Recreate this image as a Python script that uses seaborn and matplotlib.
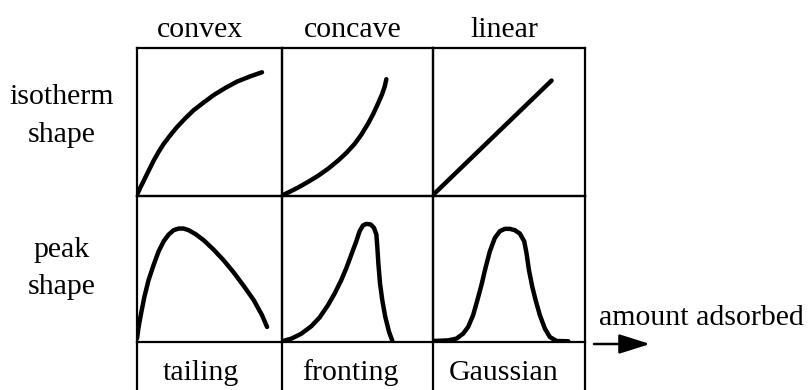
import matplotlib
matplotlib.use("Agg")
import matplotlib.pyplot as plt
from matplotlib.lines import Line2D
from matplotlib.patches import FancyArrowPatch
import seaborn as sns

# ---------------- data (cell-normalised coordinates) ----
column_labels = ["convex", "concave", "linear"]
bottom_labels = ["tailing", "fronting", "Gaussian"]
row_labels = [["isotherm", "shape"], ["peak", "shape"]]
axis_label = "amount adsorbed"

convex_x = [0.0, 0.023, 0.046, 0.080, 0.115, 0.149, 0.184, 0.230, 0.276, 0.333,
            0.391, 0.460, 0.529, 0.609, 0.690, 0.777, 0.862]
convex_y = [0.007, 0.057, 0.102, 0.170, 0.239, 0.298, 0.352, 0.411, 0.466, 0.525,
            0.580, 0.632, 0.682, 0.730, 0.773, 0.807, 0.836]

concave_x = [0.007, 0.062, 0.106, 0.172, 0.238, 0.305, 0.371, 0.426, 0.481, 0.525,
             0.570, 0.603, 0.636, 0.662, 0.680, 0.691]
concave_y = [0.007, 0.034, 0.057, 0.095, 0.136, 0.184, 0.239, 0.291, 0.352, 0.414,
             0.489, 0.552, 0.625, 0.686, 0.739, 0.789]

linear_x = [0.0, 0.78]
linear_y = [0.007, 0.78]

tailing_x = [0.0, 0.011, 0.028, 0.051, 0.080, 0.115, 0.149, 0.184, 0.218, 0.253, 0.287,
             0.322, 0.356, 0.402, 0.460, 0.529, 0.598, 0.667, 0.736, 0.805, 0.862, 0.897]
tailing_y = [0.023, 0.103, 0.195, 0.310, 0.425, 0.529, 0.621, 0.690, 0.736, 0.766, 0.777,
             0.777, 0.766, 0.740, 0.697, 0.632, 0.559, 0.476, 0.384, 0.287, 0.184, 0.103]

fronting_x = [0.007, 0.062, 0.128, 0.194, 0.249, 0.305, 0.349, 0.393, 0.426, 0.459, 0.492,
              0.514, 0.536, 0.558, 0.587, 0.609, 0.625, 0.631, 0.638, 0.649, 0.664, 0.684,
              0.709, 0.731]
fronting_y = [0.007, 0.023, 0.057, 0.108, 0.168, 0.253, 0.333, 0.425, 0.506, 0.598, 0.690,
              0.759, 0.798, 0.809, 0.805, 0.782, 0.736, 0.655, 0.540, 0.402, 0.287, 0.172,
              0.069, 0.007]

gauss_x = [0.0, 0.099, 0.154, 0.198, 0.231, 0.264, 0.292, 0.319, 0.345, 0.374, 0.407,
           0.440, 0.473, 0.505, 0.538, 0.571, 0.600, 0.615, 0.631, 0.653, 0.675, 0.703,
           0.736, 0.769, 0.813, 0.890]
gauss_y = [0.007, 0.011, 0.023, 0.057, 0.103, 0.184, 0.287, 0.391, 0.506, 0.621, 0.713,
           0.759, 0.775, 0.775, 0.766, 0.743, 0.690, 0.609, 0.494, 0.379, 0.287, 0.184,
           0.092, 0.034, 0.007, 0.005]

curves = [
    [(convex_x, convex_y), (concave_x, concave_y), (linear_x, linear_y)],
    [(tailing_x, tailing_y), (fronting_x, fronting_y), (gauss_x, gauss_y)],
]

# ---------------- layout ----------------
W, H = 811, 390
col_edges = [137, 282, 433, 585]
row_edges = [48, 196, 342]

sns.set_theme(style="white")
plt.rcParams["font.family"] = ["Liberation Serif", "DejaVu Serif"]

fig = plt.figure(figsize=(W / 100, H / 100), dpi=100)
fig.patch.set_facecolor("white")


def fx(px):
    return px / W


def fy(py):
    return 1 - py / H


for r in range(2):
    for c in range(3):
        x0, x1 = col_edges[c], col_edges[c + 1]
        y0, y1 = row_edges[r], row_edges[r + 1]
        ax = fig.add_axes([fx(x0), fy(y1), (x1 - x0) / W, (y1 - y0) / H])
        xs, ys = curves[r][c]
        sns.lineplot(x=xs, y=ys, ax=ax, color="black", linewidth=3.2,
                     sort=False, estimator=None, solid_capstyle="round",
                     solid_joinstyle="round")
        ax.set_xlim(0, 1)
        ax.set_ylim(0, 1)
        ax.set_xticks([])
        ax.set_yticks([])
        ax.set_facecolor("none")
        for sp in ax.spines.values():
            sp.set_visible(True)
            sp.set_color("black")
            sp.set_linewidth(1.6)

# vertical lines extending below the grid
for xe in col_edges:
    fig.add_artist(Line2D([fx(xe), fx(xe)], [fy(row_edges[-1]), 0],
                          transform=fig.transFigure, color="black", lw=1.6))

fs = 21.5
for lab, xc in zip(column_labels, [200, 353, 504]):
    fig.text(fx(xc), fy(30), lab, ha="center", va="center", fontsize=fs, color="black")
for lab, xc in zip(bottom_labels, [201, 350, 504]):
    fig.text(fx(xc), fy(373), lab, ha="center", va="center", fontsize=fs, color="black")
for lines, ycs in zip(row_labels, [[97, 135], [250, 287]]):
    for lab, yc in zip(lines, ycs):
        fig.text(fx(62), fy(yc), lab, ha="center", va="center", fontsize=fs, color="black")

fig.text(fx(599), fy(318), axis_label, ha="left", va="center", fontsize=fs, color="black")
fig.add_artist(FancyArrowPatch(
    (fx(594), fy(344)), (fx(650), fy(344)), transform=fig.transFigure,
    arrowstyle="-|>,head_length=0.95,head_width=0.3", mutation_scale=20,
    color="black", lw=1.8, shrinkA=0, shrinkB=0))

fig.savefig("out.png", dpi=100, facecolor="white")
